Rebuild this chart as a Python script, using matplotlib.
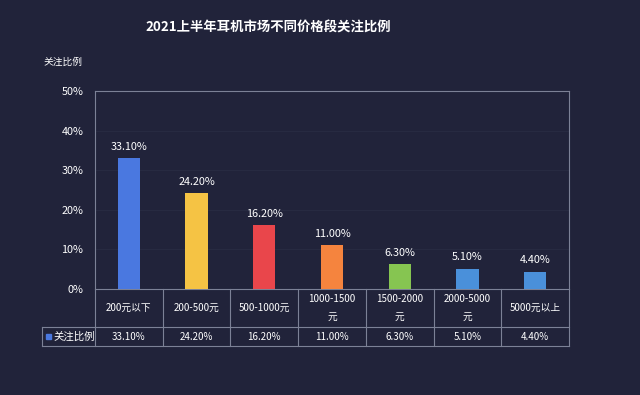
import numpy as np
import matplotlib
matplotlib.use('Agg')
import matplotlib.pyplot as plt
from matplotlib.patches import Rectangle

plt.rcParams['font.family'] = ['Noto Sans CJK SC', 'DejaVu Sans']

# data
categories = ['200元以下', '200-500元', '500-1000元', '1000-1500\n元',
              '1500-2000\n元', '2000-5000\n元', '5000元以上']
values = [33.1, 24.2, 16.2, 11.0, 6.3, 5.1, 4.4]
colors = ['#4a78e0', '#f5c344', '#e9464b', '#f5843e', '#86c551', '#4a90da', '#4a90da']
series_name = '关注比例'
yticks = [0, 10, 20, 30, 40, 50]

bg = '#21233a'
edge = '#7c8196'
txt = '#ffffff'

fig = plt.figure(figsize=(6.4, 3.95), dpi=100, facecolor=bg)
ax = fig.add_axes([95/640, 1-289/395, 474/640, 198/395])
ax.set_facecolor(bg)

n = len(values)
x = np.arange(n)
ax.bar(x, values, width=0.33, color=colors, zorder=3)
for xi, v in zip(x, values):
    ax.text(xi, v + 1.6, '%.2f%%' % v, ha='center', va='bottom', color=txt, fontsize=7.8)

ax.set_xlim(-0.5, n - 0.5)
ax.set_ylim(0, 50)
ax.set_yticks(yticks)
ax.set_yticklabels(['%d%%' % t for t in yticks], color=txt, fontsize=7.8)
ax.tick_params(axis='y', length=0, pad=8.5)
ax.set_xticks([])
ax.grid(axis='y', color='#292c43', linewidth=0.6, zorder=0)
for s in ax.spines.values():
    s.set_color(edge)
    s.set_linewidth(0.8)

# table below the plot (axes coords in y)
r1 = -38/198   # bottom of category row
r2 = -57/198   # bottom of value row
lx = -53/474   # left edge of the legend column
tr = ax.get_xaxis_transform()
lk = dict(color=edge, linewidth=0.8, clip_on=False, transform=tr)
ax.plot([-0.5, -0.5], [0, r2], **lk)
ax.plot([n - 0.5, n - 0.5], [0, r2], **lk)
for i in range(1, n):
    ax.plot([i - 0.5, i - 0.5], [0, r2], **lk)
ta = ax.transAxes
ax.plot([lx, 1], [r1, r1], color=edge, linewidth=0.8, clip_on=False, transform=ta)
ax.plot([lx, 1], [r2, r2], color=edge, linewidth=0.8, clip_on=False, transform=ta)
ax.plot([lx, lx], [r1, r2], color=edge, linewidth=0.8, clip_on=False, transform=ta)

for xi, c, v in zip(x, categories, values):
    ax.text(xi, r1 / 2, c, transform=tr, ha='center', va='center', color=txt,
            fontsize=7, linespacing=2.0)
    ax.text(xi, (r1 + r2) / 2, '%.2f%%' % v, transform=tr, ha='center', va='center',
            color=txt, fontsize=7)
ax.add_patch(Rectangle((lx + 0.008, (r1 + r2) / 2 - 0.013), 0.011, 0.026,
                       transform=ta, color=colors[0], clip_on=False))
ax.text(lx + 0.024, (r1 + r2) / 2, series_name, transform=ta, ha='left', va='center',
        color=txt, fontsize=7.5)

fig.text(268/640, 1-28/395, '2021上半年耳机市场不同价格段关注比例', ha='center', va='center',
         color=txt, fontsize=9.6, fontweight='bold')
fig.text(43/640, 1-62/395, series_name, ha='left', va='center', color=txt, fontsize=7)

fig.savefig('out.png', dpi=100, facecolor=bg)
